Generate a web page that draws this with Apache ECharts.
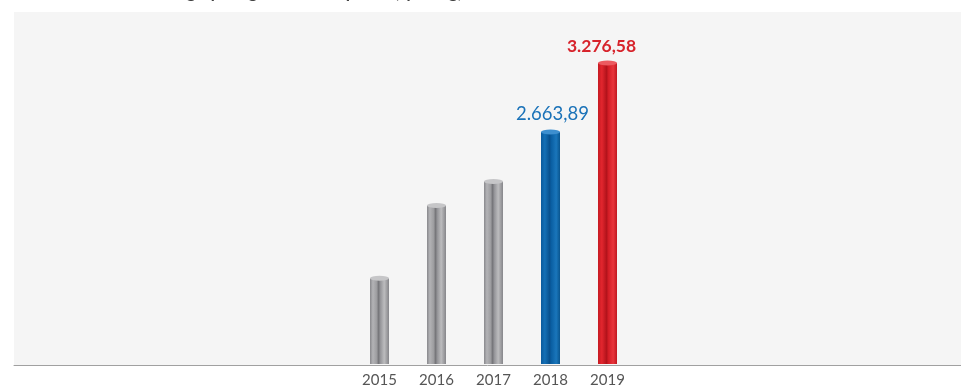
<!DOCTYPE html>
<html>
<head>
<meta charset="utf-8">
<script src="https://cdn.jsdelivr.net/npm/echarts@6/dist/echarts.min.js"></script>
<style>html,body{margin:0;padding:0;background:#fff;}#c{width:961px;height:388px;}</style>
</head>
<body>
<div id="c"></div>
<script>
var titleText = 'Vốn đăng ký tăng thêm và cấp mới (tỷ đồng)';
var years = ['2015', '2016', '2017', '2018', '2019'];
var values = [1362, 2009, 2222, 2663.89, 3276.58];
var labels = ['', '', '', '2.663,89', '3.276,58'];

function grad(stops) {
  return new echarts.graphic.LinearGradient(0, 0, 1, 0, stops.map(function (s) { return { offset: s[0], color: s[1] }; }));
}
var grayG = grad([[0, '#88888c'], [0.15, '#b3b3b6'], [0.35, '#9d9da0'], [0.45, '#76767a'], [0.55, '#96969a'], [0.75, '#bcbcbe'], [1, '#86868a']]);
var blueG = grad([[0, '#0b5a9c'], [0.2, '#1470b6'], [0.45, '#08518f'], [0.55, '#0a5fa3'], [0.8, '#1a76bb'], [1, '#09558f']]);
var redG = grad([[0, '#c51a22'], [0.2, '#e2262e'], [0.45, '#b3131b'], [0.55, '#d41d26'], [0.8, '#e8353c'], [1, '#c01820']]);
var capGray = '#c6c6c8', capBlue = '#3d8fcf', capRed = '#ec5a60';

function colorFor(i, kind) {
  if (i === 3) return kind === 'cap' ? capBlue : blueG;
  if (i === 4) return kind === 'cap' ? capRed : redG;
  return kind === 'cap' ? capGray : grayG;
}

var barData = values.map(function (v, i) {
  var d = { value: v, itemStyle: { color: colorFor(i, 'body') } };
  if (labels[i]) {
    d.label = {
      show: true, position: 'top', distance: 8,
      offset: i === 4 ? [-6, 0] : [2, 0],
      formatter: labels[i],
      color: i === 4 ? '#d7232b' : '#1a72b8',
      fontSize: i === 4 ? 17.5 : 18.5,
      fontWeight: i === 4 ? 'bold' : 'normal',
      fontFamily: 'Lato'
    };
  }
  return d;
});
var capData = values.map(function (v, i) {
  return { value: v, itemStyle: { color: colorFor(i, 'cap') } };
});
var bottomData = values.map(function (v, i) {
  return { value: v, itemStyle: { color: colorFor(i, 'body') } };
});

var chart = echarts.init(document.getElementById('c'));
chart.setOption({
  animation: false,
  backgroundColor: '#ffffff',
  title: {
    text: titleText, left: 118, top: -22,
    textStyle: { fontFamily: 'Lato', fontSize: 17.5, fontWeight: 'bold', color: '#444' }
  },
  grid: [
    { left: 351, right: 325, top: 12, bottom: 23 },
    { left: 14, right: 0, top: 12, bottom: 23, show: true, backgroundColor: '#f5f5f5', borderWidth: 0, z: 0 }
  ],
  xAxis: [
    {
      type: 'category', data: years, gridIndex: 0,
      axisLine: { show: false }, axisTick: { show: false },
      axisLabel: { color: '#555', fontSize: 15, fontFamily: 'Lato', margin: 9 }
    },
    {
      type: 'category', data: [''], gridIndex: 1,
      axisLine: { show: true, lineStyle: { color: '#a0a0a0', width: 1 } },
      axisTick: { show: false }, axisLabel: { show: false }
    }
  ],
  yAxis: [
    { type: 'value', gridIndex: 0, min: 600, max: 3730, show: false, splitLine: { show: false } },
    { type: 'value', gridIndex: 1, show: false, splitLine: { show: false } }
  ],
  series: [
    {
      type: 'bar', xAxisIndex: 0, yAxisIndex: 0, barWidth: 19, data: barData, z: 3
    },
    {
      type: 'pictorialBar', xAxisIndex: 0, yAxisIndex: 0, symbol: 'circle',
      symbolSize: [19, 5], symbolPosition: 'end', symbolOffset: [0, '-50%'],
      data: capData, z: 4, silent: true
    },
    {
      type: 'pictorialBar', xAxisIndex: 0, yAxisIndex: 0, symbol: 'circle',
      symbolSize: [19, 5], symbolPosition: 'start', symbolOffset: [0, '50%'],
      data: bottomData, z: 2, silent: true
    }
  ]
});
</script>
</body>
</html>
